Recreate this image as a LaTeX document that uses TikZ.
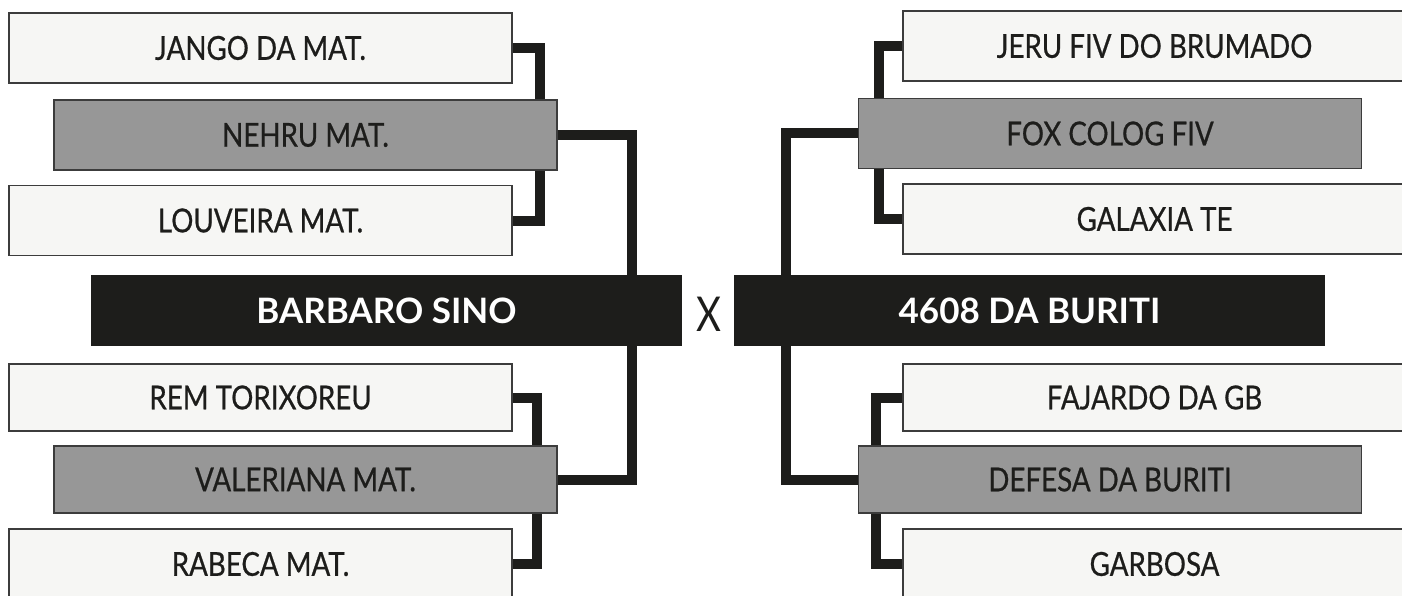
\documentclass[tikz,border=0pt]{standalone}
\usepackage{fontspec}
\setmainfont{Lato}
\newfontfamily\pedfont{Lato}[FakeStretch=0.84, FakeBold=0.6]
\newfontfamily\crossfont{Lato}[FakeStretch=0.8]
\usetikzlibrary{backgrounds}
\definecolor{pedink}{HTML}{1D1D1B}
\definecolor{pedlight}{HTML}{F6F6F4}
\definecolor{pedgray}{HTML}{979797}
\definecolor{pededge}{HTML}{3C3C3C}

\begin{document}
\begin{tikzpicture}[x=1pt, y=-1pt,
    horse/.style={draw=pededge, line width=1.2pt, fill=pedlight, text=pedink,
      minimum width=503pt, minimum height=70pt, inner sep=0pt, font=\pedfont\fontsize{33}{36}\selectfont},
    sire/.style={horse, fill=pedgray},
    main/.style={fill=pedink, text=white, minimum width=591pt, minimum height=71pt,
      inner sep=0pt, font=\fontsize{35}{38}\selectfont\bfseries},
    link/.style={draw=pedink, line width=10pt}]
  \useasboundingbox (0,0) rectangle (1402,596);
  % Left side
  \node[horse] (jango) at (260.5,48) {JANGO DA MAT.};
  \node[sire] (nehru) at (305.5,135) {NEHRU MAT.};
  \node[horse] (louveira) at (260.5,220.5) {LOUVEIRA MAT.};
  \node[main] (barbaro) at (386.5,310.5) {BARBARO SINO};
  \node[horse, minimum height=67pt] (rem) at (260.5,397.5) {REM TORIXOREU};
  \node[sire, minimum height=67pt] (valeriana) at (305.5,479.5) {VALERIANA MAT.};
  \node[horse] (rabeca) at (260.5,564) {RABECA MAT.};
  % Right side
  \node[horse] (jeru) at (1154.5,46) {JERU FIV DO BRUMADO};
  \node[sire] (fox) at (1110,133.5) {FOX COLOG FIV};
  \node[horse] (galaxia) at (1154.5,219) {GALAXIA TE};
  \node[main] (buriti) at (1029.5,310.5) {4608 DA BURITI};
  \node[horse, minimum height=67pt] (fajardo) at (1154.5,397.5) {FAJARDO DA GB};
  \node[sire, minimum height=67pt] (defesa) at (1110,479.5) {DEFESA DA BURITI};
  \node[horse] (garbosa) at (1154.5,564) {GARBOSA};
  % Cross
  \node[text=pedink, font=\crossfont\fontsize{48}{50}\selectfont] (vs) at (709,314) {X};
  % Connectors
  \begin{scope}[on background layer]
    \draw[link] (jango.east) -| ([xshift=-18pt]nehru.north east);
    \draw[link] ([xshift=-18pt]nehru.south east) |- (louveira.east);
    \draw[link] (nehru.east) -| ([xshift=-50pt]barbaro.north east);
    \draw[link] (rem.east) -| ([xshift=-21pt]valeriana.north east);
    \draw[link] ([xshift=-21pt]valeriana.south east) |- (rabeca.east);
    \draw[link] (valeriana.east) -| ([xshift=-50pt]barbaro.south east);
    \draw[link] (jeru.west) -| ([xshift=21.5pt]fox.north west);
    \draw[link] ([xshift=21.5pt]fox.south west) |- (galaxia.west);
    \draw[link] (fox.west) -| ([xshift=52pt]buriti.north west);
    \draw[link] (fajardo.west) -| ([xshift=18.5pt]defesa.north west);
    \draw[link] ([xshift=18.5pt]defesa.south west) |- (garbosa.west);
    \draw[link] (defesa.west) -| ([xshift=52pt]buriti.south west);
  \end{scope}
\end{tikzpicture}
\end{document}
